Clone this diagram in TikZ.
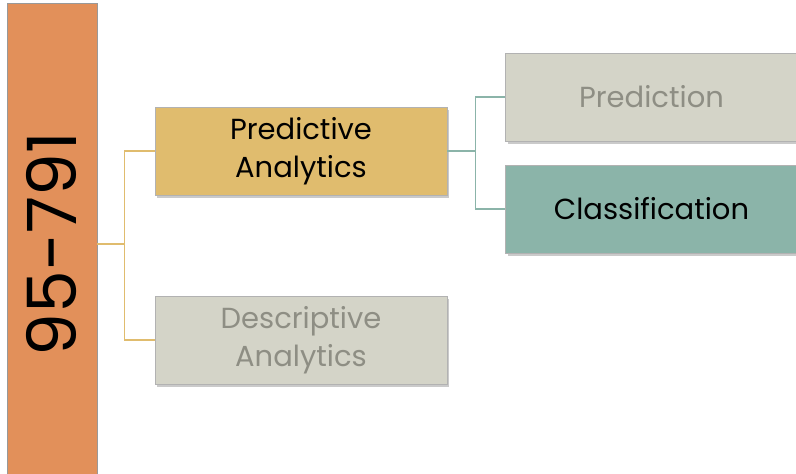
\documentclass[tikz,border=0pt]{standalone}
\usepackage{fontspec}
\setmainfont{Poppins}
\usetikzlibrary{positioning,shadows}
\definecolor{rootorange}{HTML}{E2905A}
\definecolor{gold}{HTML}{E0BC6E}
\definecolor{stone}{HTML}{D4D4C8}
\definecolor{stonetext}{HTML}{8E8E84}
\definecolor{teal}{HTML}{8BB4A9}
\tikzstyle{leaf}=[rectangle, draw=black!30, line width=0.6pt, minimum width=292pt,
	minimum height=88pt, inner sep=0pt, align=center, font=\fontsize{29}{38}\selectfont,
	drop shadow={shadow xshift=2pt, shadow yshift=-2.5pt, opacity=0.35, fill=black!60}]
\tikzstyle{active}=[leaf, fill=gold, text=black]
\tikzstyle{inactive}=[leaf, fill=stone, text=stonetext]
\tikzstyle{goldline}=[draw=gold, line width=1.4pt]
\tikzstyle{tealline}=[draw=teal, line width=1.4pt]

\begin{document}
\begin{tikzpicture}[x=1pt, y=-1pt]
            \useasboundingbox (0,0) rectangle (796,474);
            \clip (0,0) rectangle (796,474);
            \node[rectangle, draw=black!40, fill=rootorange, rotate=90, minimum width=482pt,
                minimum height=90pt, inner sep=0pt, font=\fontsize{68}{74}\selectfont] (root)
                at (52,244) {95-791};
            \node[active] (pred) at (301,151) {Predictive\\Analytics};
            \node[inactive] (desc) at (301,340) {Descriptive\\Analytics};
            \node[inactive] (pdn) at (651.5,97) {Prediction};
            \node[leaf, fill=teal] (cls) at (651.5,209) {Classification};
            \draw[goldline] (pred.west) -- ++(-30,0) |- (root.south);
            \draw[goldline] (desc.west) -- ++(-30,0) |- (root.south);
            \draw[tealline] (pdn.west) -- ++(-30,0) |- (pred.east);
            \draw[tealline] (cls.west) -- ++(-30,0) |- (pred.east);
        \end{tikzpicture}
\end{document}
